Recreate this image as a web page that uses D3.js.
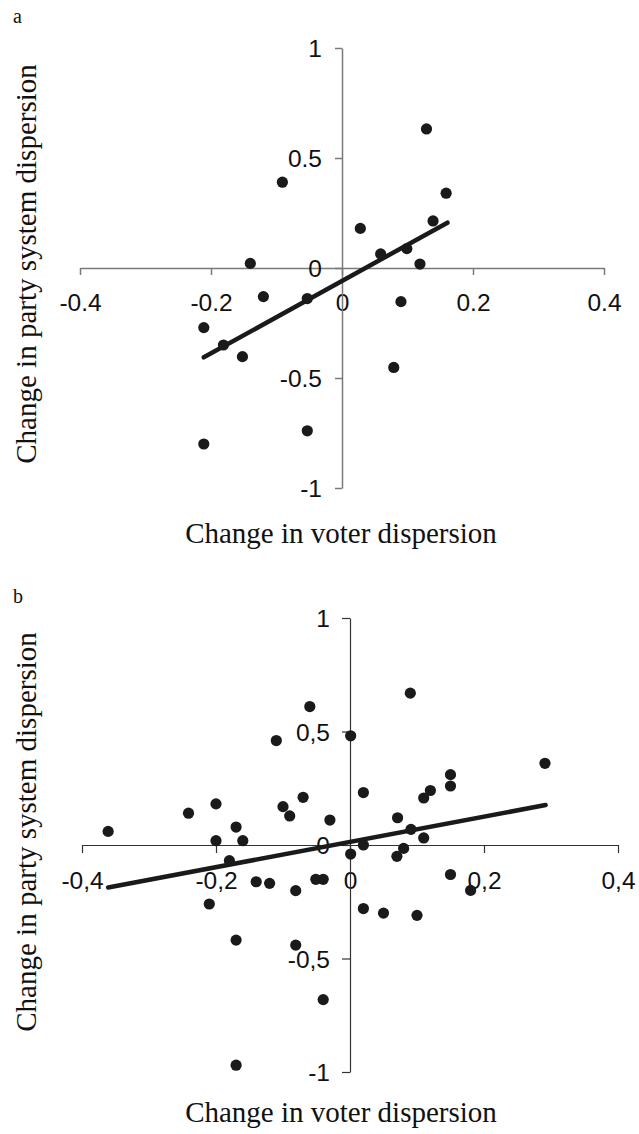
<!DOCTYPE html>
<html><head><meta charset="utf-8">
<script src="https://cdn.jsdelivr.net/npm/d3@7"></script>
<style>body{margin:0;background:#fff}svg{display:block}</style>
</head><body>
<svg id="chart" width="639" height="1134"></svg>
<script>
// ---- Panel a data ----
const aX = [-0.211,-0.211,-0.181,-0.152,-0.140,-0.120,-0.091,-0.053,-0.053,0.028,0.059,0.079,0.090,0.099,0.119,0.129,0.139,0.159];
const aY = [-0.271,-0.800,-0.350,-0.403,0.021,-0.130,0.390,-0.139,-0.740,0.180,0.064,-0.452,-0.153,0.088,0.018,0.632,0.214,0.340];
const aLineX = [-0.211, 0.161];
const aLineY = [-0.406, 0.206];
const aXTicks = [-0.4,-0.2,0,0.2,0.4];
const aXTickLabels = ["-0.4","-0.2","0","0.2","0.4"];
const aYTicks = [-1,-0.5,0,0.5,1];
const aYTickLabels = ["-1","-0.5","0","0.5","1"];

// ---- Panel b data ----
const bX = [-0.361,-0.241,-0.200,-0.200,-0.210,-0.180,-0.170,-0.160,-0.170,-0.170,-0.140,-0.120,-0.110,-0.100,-0.090,-0.081,-0.081,-0.070,-0.060,-0.051,-0.040,-0.030,-0.040,0.001,0.001,0.020,0.020,0.020,0.050,0.071,0.070,0.080,0.090,0.091,0.100,0.110,0.110,0.120,0.150,0.150,0.150,0.180,0.291];
const bY = [0.060,0.140,0.181,0.019,-0.260,-0.069,0.079,0.019,-0.419,-0.970,-0.162,-0.169,0.460,0.169,0.128,-0.201,-0.441,0.210,0.610,-0.151,-0.151,0.110,-0.681,0.481,-0.040,0.231,0.000,-0.280,-0.300,0.120,-0.050,-0.015,0.669,0.069,-0.310,0.207,0.031,0.240,0.310,0.260,-0.130,-0.200,0.360];
const bLineX = [-0.361, 0.292];
const bLineY = [-0.187, 0.176];
const bXTicks = [-0.4,-0.2,0,0.2,0.4];
const bXTickLabels = ["-0,4","-0,2","0","0,2","0,4"];
const bYTicks = [-1,-0.5,0,0.5,1];
const bYTickLabels = ["-1","-0,5","0","0,5","1"];

const xTitle = "Change in voter dispersion";
const yTitle = "Change in party system dispersion";

const svg = d3.select("#chart");

function panel(cfg){
  const g = svg.append("g");
  const x = d3.scaleLinear().domain([-0.4,0.4]).range(cfg.xr);
  const y = d3.scaleLinear().domain([-1,1]).range(cfg.yr);
  const x0 = x(0), y0 = y(0);

  const xa = g.append("g").attr("transform",`translate(0,${y0})`)
    .call(d3.axisBottom(x).tickValues(cfg.xt).tickSize(cfg.tick).tickSizeOuter(0)
      .tickFormat((d,i)=>cfg.xl[i]).tickPadding(cfg.xpad));
  const ya = g.append("g").attr("transform",`translate(${x0},0)`)
    .call(d3.axisLeft(y).tickValues(cfg.yt).tickSize(cfg.tick).tickSizeOuter(0)
      .tickFormat((d,i)=>cfg.yl[i]).tickPadding(cfg.ypad));
  [xa,ya].forEach(a=>{
    a.select(".domain").attr("stroke",cfg.axisColor).attr("stroke-width",cfg.axisW);
    a.selectAll(".tick line").attr("stroke",cfg.axisColor).attr("stroke-width",cfg.axisW);
    a.selectAll(".tick text").attr("font-family","'Liberation Sans', Arial, sans-serif")
      .attr("font-size",24.5).attr("fill","#111");
  });
  ya.selectAll(".tick text").attr("dy","0.36em");

  g.append("line")
    .attr("x1",x(cfg.lx[0])).attr("y1",y(cfg.ly[0]))
    .attr("x2",x(cfg.lx[1])).attr("y2",y(cfg.ly[1]))
    .attr("stroke","#1a1a1a").attr("stroke-width",4.5).attr("stroke-linecap","round");

  g.append("g").selectAll("circle").data(cfg.px.map((v,i)=>[v,cfg.py[i]])).join("circle")
    .attr("cx",d=>x(d[0])).attr("cy",d=>y(d[1])).attr("r",5.6).attr("fill","#1a1a1a");

  g.append("text").attr("x",cfg.xTitleX).attr("y",cfg.xTitleY).attr("text-anchor","middle")
    .attr("font-family","'Liberation Serif', 'Times New Roman', serif").attr("font-size",29)
    .attr("fill","#111").text(xTitle);
  g.append("text").attr("transform",`translate(${cfg.yTitleX},${cfg.yTitleY}) rotate(-90)`)
    .attr("text-anchor","middle")
    .attr("font-family","'Liberation Serif', 'Times New Roman', serif").attr("font-size",29)
    .attr("fill","#111").text(yTitle);
  g.append("text").attr("x",cfg.labX).attr("y",cfg.labY)
    .attr("font-family","'Liberation Serif', 'Times New Roman', serif").attr("font-size",20)
    .attr("fill","#111").text(cfg.lab);
}

panel({xr:[80,604], yr:[488,48], xt:aXTicks, xl:aXTickLabels, yt:aYTicks, yl:aYTickLabels,
  tick:7, xpad:19, ypad:13, axisColor:"#7a7a7a", axisW:1.5,
  lx:aLineX, ly:aLineY, px:aX, py:aY,
  xTitleX:341, xTitleY:543, yTitleX:36, yTitleY:264, lab:"a", labX:13, labY:23});

panel({xr:[82,618], yr:[1072,618], xt:bXTicks, xl:bXTickLabels, yt:bYTicks, yl:bYTickLabels,
  tick:8, xpad:19, ypad:12, axisColor:"#333", axisW:1.2,
  lx:bLineX, ly:bLineY, px:bX, py:bY,
  xTitleX:341, xTitleY:1122, yTitleX:36, yTitleY:832, lab:"b", labX:13, labY:603});
</script>
</body></html>
